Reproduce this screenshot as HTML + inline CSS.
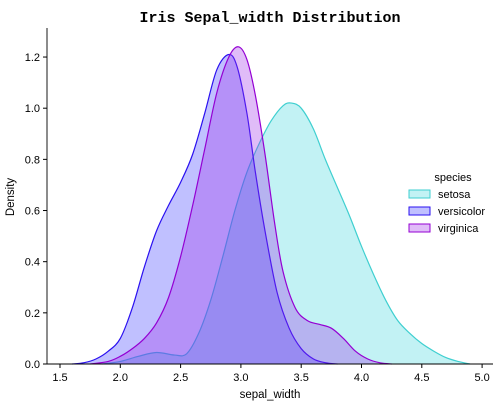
<!DOCTYPE html>
<html><head><meta charset="utf-8"><style>
body{margin:0;background:#fff;font-family:"Liberation Sans",sans-serif}
</style></head><body>
<svg id="c" width="502" height="404" xmlns="http://www.w3.org/2000/svg" font-family="Liberation Sans, sans-serif"></svg>
<script>
const xTicks=[1.5,2.0,2.5,3.0,3.5,4.0,4.5,5.0];
const yTicks=[0.0,0.2,0.4,0.6,0.8,1.0,1.2];
const seriesNames=["setosa","versicolor","virginica"];
const setosaX=[1.85,2.0,2.15,2.3,2.45,2.55,2.65,2.75,2.85,2.95,3.05,3.15,3.25,3.35,3.42,3.5,3.6,3.7,3.8,3.9,4.0,4.1,4.2,4.3,4.4,4.5,4.6,4.7,4.8,4.9];
const setosaY=[0,0.01,0.03,0.045,0.035,0.04,0.12,0.25,0.42,0.6,0.75,0.86,0.95,1.01,1.02,1.0,0.92,0.8,0.69,0.58,0.46,0.35,0.25,0.17,0.12,0.08,0.05,0.025,0.01,0];
const versiX=[1.6,1.7,1.8,1.9,2.0,2.1,2.2,2.3,2.4,2.5,2.6,2.7,2.8,2.9,2.97,3.05,3.12,3.2,3.3,3.4,3.5,3.6,3.7,3.8];
const versiY=[0,0.005,0.02,0.05,0.1,0.22,0.38,0.52,0.62,0.71,0.82,0.98,1.15,1.21,1.16,0.98,0.75,0.52,0.28,0.14,0.06,0.02,0.005,0];
const virgX=[1.75,1.9,2.0,2.1,2.2,2.3,2.4,2.5,2.6,2.7,2.8,2.9,2.98,3.05,3.12,3.2,3.28,3.35,3.45,3.55,3.65,3.75,3.85,3.95,4.05,4.15,4.25];
const virgY=[0,0.01,0.03,0.06,0.1,0.16,0.26,0.42,0.62,0.84,1.06,1.2,1.24,1.19,1.05,0.82,0.55,0.36,0.22,0.17,0.155,0.14,0.1,0.05,0.02,0.005,0];
const NS="http://www.w3.org/2000/svg",svg=document.getElementById('c');
const X=v=>60+(v-1.5)*120.6, Y=v=>364-v*255.8;
function el(t,a,p){const e=document.createElementNS(NS,t);for(const k in a)e.setAttribute(k,a[k]);(p||svg).appendChild(e);return e;}
function path(xs,ys){const p=xs.map((x,i)=>[X(x),Y(ys[i])]);let d="M"+p[0][0]+","+p[0][1];
for(let i=0;i<p.length-1;i++){const p0=p[i-1]||p[i],p1=p[i],p2=p[i+1],p3=p[i+2]||p2;
d+=` C${p1[0]+(p2[0]-p0[0])/6},${p1[1]+(p2[1]-p0[1])/6} ${p2[0]-(p3[0]-p1[0])/6},${p2[1]-(p3[1]-p1[1])/6} ${p2[0]},${p2[1]}`;}return d;}
const cols=["#3fcfd0","#2a10f0","#9400d3"],fills=["#40d8dc","#3a3aff","#a030e8"];
const data=[[setosaX,setosaY],[versiX,versiY],[virgX,virgY]];
data.forEach((s,i)=>{const d=path(s[0],s[1]);
const f=el('path',{d:d+` L${X(s[0][s[0].length-1])},364 L${X(s[0][0])},364Z`,fill:fills[i],'fill-opacity':0.32,stroke:'none'});

const l=el('path',{d:d,fill:'none',stroke:cols[i],'stroke-width':1.2});
});
el('line',{x1:47,y1:364,x2:493,y2:364,stroke:'#000','stroke-width':0.9});
el('line',{x1:47,y1:28,x2:47,y2:364,stroke:'#000','stroke-width':0.9});
xTicks.forEach(t=>{el('line',{x1:X(t),x2:X(t),y1:364,y2:368,stroke:'#000'});
const tx=el('text',{x:X(t),y:381,'font-size':11,'text-anchor':'middle'});tx.textContent=t.toFixed(1);
});
yTicks.forEach(t=>{el('line',{x1:43,x2:47,y1:Y(t),y2:Y(t),stroke:'#000'});
const tx=el('text',{x:40,y:Y(t)+4,'font-size':11,'text-anchor':'end'});tx.textContent=t.toFixed(1);
});
let t=el('text',{x:270,y:398,'font-size':11.5,'text-anchor':'middle',});t.textContent='sepal_width';
t=el('text',{x:14,y:197,'font-size':11.5,'text-anchor':'middle',transform:'rotate(-90 14 197)',});t.textContent='Density';
t=el('text',{x:270,y:22,'font-size':15,'font-weight':'bold','font-family':'Liberation Mono, monospace','text-anchor':'middle',});t.textContent='Iris Sepal_width Distribution';
const lg=el('g',{});
t=el('text',{x:453,y:181,'font-size':11,'text-anchor':'middle'},lg);t.textContent='species';
seriesNames.forEach((n,i)=>{const y=195+i*17;
const r=el('rect',{x:409,y:y-5,width:21,height:8,fill:fills[i],'fill-opacity':0.32,stroke:cols[i]},lg);

const tt=el('text',{x:438,y:y+3,'font-size':11},lg);tt.textContent=n;
});
</script></body></html>
